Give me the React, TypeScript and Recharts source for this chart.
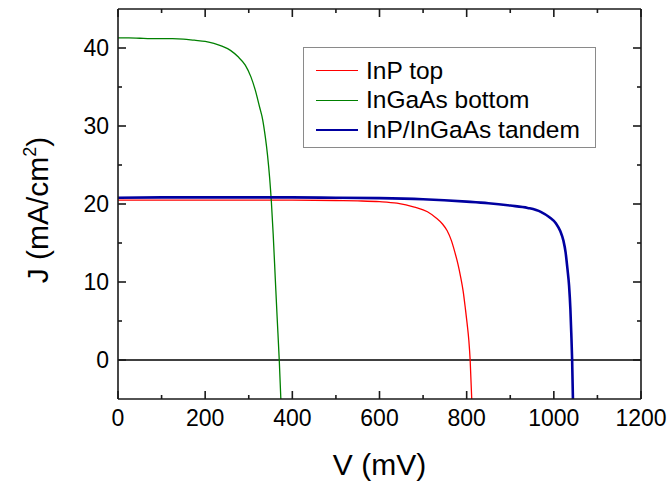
import React from 'react';
import { LineChart, Line, XAxis, YAxis, ReferenceLine } from 'recharts';

// J–V curves of the InP top cell, InGaAs bottom cell and the InP/InGaAs tandem
const inpV = [0, 100, 200, 300, 400, 500, 550, 600, 640, 680, 710, 730, 745, 755, 765, 773, 780, 786, 792, 797, 801, 805, 808, 812];
const inpJ = [20.5, 20.5, 20.5, 20.5, 20.5, 20.45, 20.4, 20.3, 20.1, 19.6, 19.0, 18.2, 17.4, 16.6, 15.3, 13.8, 12.3, 10.7, 8.8, 6.6, 4.7, 2.5, 0, -5.5];

const ingaasV = [0, 25, 50, 75, 100, 125, 150, 175, 200, 220, 240, 258, 275, 292, 305, 315, 325, 332, 338, 343, 348, 352, 356, 361, 365, 370, 374];
const ingaasJ = [41.3, 41.3, 41.25, 41.2, 41.2, 41.2, 41.15, 41.0, 40.85, 40.6, 40.2, 39.7, 38.9, 37.8, 36.3, 34.6, 32.4, 30.8, 28.6, 26.3, 23.3, 20.2, 16.2, 10.3, 5.6, 0, -5.5];

const tandemV = [0, 100, 200, 300, 400, 500, 600, 700, 800, 850, 900, 940, 970, 990, 1005, 1015, 1022, 1027, 1031, 1035, 1038, 1040, 1042, 1044];
const tandemJ = [20.8, 20.85, 20.85, 20.85, 20.85, 20.8, 20.75, 20.6, 20.3, 20.1, 19.8, 19.5, 19.0, 18.3, 17.5, 16.5, 15.3, 13.8, 11.8, 9.5, 6.5, 3.5, 0, -5.5];

const xTicks = [0, 100, 200, 300, 400, 500, 600, 700, 800, 900, 1000, 1100, 1200];
const yTicks = [0, 5, 10, 15, 20, 25, 30, 35, 40];

const seriesNames = ['InP top', 'InGaAs bottom', 'InP/InGaAs tandem'];
const seriesColors = ['#ff0000', '#008000', '#0000a0'];
const seriesWidths = [1.3, 1.3, 2.6];

const toPoints = (vs: number[], js: number[]) => vs.map((v, i) => ({ v, j: js[i] }));
const seriesData = [toPoints(inpV, inpJ), toPoints(ingaasV, ingaasJ), toPoints(tandemV, tandemJ)];

const FONT = '"Liberation Sans", Arial, sans-serif';
const AXIS = '#1a1a1a';
const AXIS_W = 1.6;
const MAJOR = 8;
const MINOR = 4;
const TICK_FONT = 23;
const TITLE_FONT = 30;

const BottomTick = (p: any) => {
  const major = p.payload.value % 200 === 0;
  return (
    <g>
      <line x1={p.x} x2={p.x} y1={p.y} y2={p.y - (major ? MAJOR : MINOR)} stroke={AXIS} strokeWidth={AXIS_W} />
      {major && (
        <text x={p.x} y={p.y + 27} textAnchor="middle" fontSize={TICK_FONT} fontFamily={FONT} fill="#000">
          {p.payload.value}
        </text>
      )}
    </g>
  );
};

const TopTick = (p: any) => {
  const major = p.payload.value % 200 === 0;
  return <line x1={p.x} x2={p.x} y1={p.y} y2={p.y + (major ? MAJOR : MINOR)} stroke={AXIS} strokeWidth={AXIS_W} />;
};

const LeftTick = (p: any) => {
  const major = p.payload.value % 10 === 0;
  return (
    <g>
      <line x1={p.x} x2={p.x + (major ? MAJOR : MINOR)} y1={p.y} y2={p.y} stroke={AXIS} strokeWidth={AXIS_W} />
      {major && (
        <text x={p.x - 9} y={p.y + 8} textAnchor="end" fontSize={TICK_FONT} fontFamily={FONT} fill="#000">
          {p.payload.value}
        </text>
      )}
    </g>
  );
};

const RightTick = (p: any) => {
  const major = p.payload.value % 10 === 0;
  return <line x1={p.x} x2={p.x - (major ? MAJOR : MINOR)} y1={p.y} y2={p.y} stroke={AXIS} strokeWidth={AXIS_W} />;
};

const XTitle = (p: any) => {
  const vb = p.viewBox;
  return (
    <text x={vb.x + vb.width / 2} y={vb.y + 76} textAnchor="middle" fontSize={TITLE_FONT} fontFamily={FONT} fill="#000">
      V (mV)
    </text>
  );
};

const YTitle = (p: any) => {
  const vb = p.viewBox;
  const cx = 48;
  const cy = vb.y + vb.height / 2 + 6;
  return (
    <text x={cx} y={cy} textAnchor="middle" fontSize={TITLE_FONT} fontFamily={FONT} fill="#000" transform={`rotate(-90 ${cx} ${cy})`}>
      J (mA/cm
      <tspan fontSize={18} dy={-12}>2</tspan>
      <tspan dy={12}>)</tspan>
    </text>
  );
};

export default function App() {
  return (
    <div style={{ position: 'absolute', left: 0, top: 0, width: 668, height: 482, background: '#fff' }}>
      <LineChart width={668} height={482} margin={{ top: 8, right: 26, bottom: 53, left: 58 }}>
        <XAxis
          xAxisId="b"
          type="number"
          dataKey="v"
          domain={[0, 1200]}
          ticks={xTicks}
          interval={0}
          height={30}
          tickSize={0}
          tickMargin={0}
          tickLine={false}
          tick={<BottomTick />}
          axisLine={{ stroke: AXIS, strokeWidth: AXIS_W }}
          allowDataOverflow
          label={<XTitle />}
        />
        <XAxis
          xAxisId="t"
          orientation="top"
          type="number"
          dataKey="v"
          domain={[0, 1200]}
          ticks={xTicks}
          interval={0}
          height={1}
          tickSize={0}
          tickMargin={0}
          tickLine={false}
          tick={<TopTick />}
          axisLine={{ stroke: AXIS, strokeWidth: AXIS_W }}
          allowDataOverflow
        />
        <YAxis
          yAxisId="l"
          type="number"
          domain={[-5, 45]}
          ticks={yTicks}
          interval={0}
          width={60}
          tickSize={0}
          tickMargin={0}
          tickLine={false}
          tick={<LeftTick />}
          axisLine={{ stroke: AXIS, strokeWidth: AXIS_W }}
          allowDataOverflow
          label={<YTitle />}
        />
        <YAxis
          yAxisId="r"
          orientation="right"
          type="number"
          domain={[-5, 45]}
          ticks={yTicks}
          interval={0}
          width={1}
          tickSize={0}
          tickMargin={0}
          tickLine={false}
          tick={<RightTick />}
          axisLine={{ stroke: AXIS, strokeWidth: AXIS_W }}
          allowDataOverflow
        />
        <ReferenceLine xAxisId="b" yAxisId="l" y={0} stroke="#000" strokeWidth={1.4} />
        {seriesData.map((d, i) => (
          <Line
            key={seriesNames[i]}
            xAxisId="b"
            yAxisId="l"
            data={d}
            dataKey="j"
            name={seriesNames[i]}
            type="monotone"
            stroke={seriesColors[i]}
            strokeWidth={seriesWidths[i]}
            dot={false}
            activeDot={false}
            isAnimationActive={false}
          />
        ))}
      </LineChart>
      <div
        style={{
          position: 'absolute',
          left: 303,
          top: 47,
          width: 293,
          height: 101,
          border: '1px solid #8a8a8a',
          background: '#fff',
          boxSizing: 'border-box',
          paddingTop: 8,
          fontFamily: FONT,
          fontSize: 24.5,
          color: '#000',
        }}
      >
        {seriesNames.map((name, i) => (
          <div key={name} style={{ display: 'flex', alignItems: 'center', height: 29.5, whiteSpace: 'nowrap' }}>
            <div style={{ marginLeft: 12, width: 42, height: 0, borderTop: `${seriesWidths[i]}px solid ${seriesColors[i]}` }} />
            <span style={{ marginLeft: 8 }}>{name}</span>
          </div>
        ))}
      </div>
    </div>
  );
}
